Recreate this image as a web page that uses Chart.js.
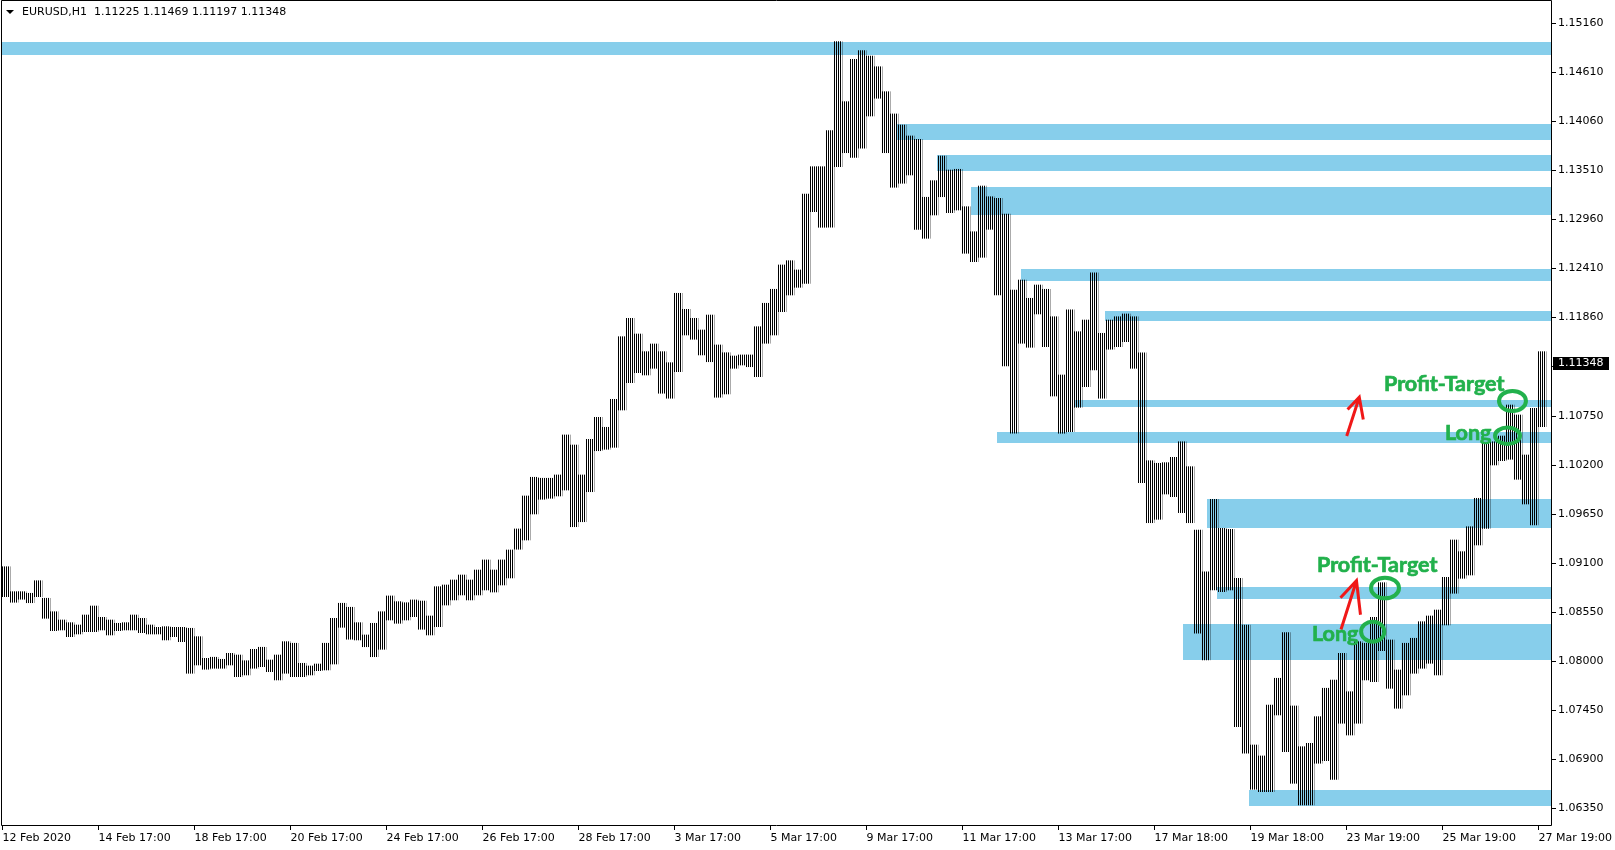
<!DOCTYPE html>
<html>
<head>
<meta charset="utf-8">
<title>EURUSD,H1</title>
<script src="https://cdn.jsdelivr.net/npm/chart.js@4.4.1/dist/chart.umd.min.js"></script>
<style>
html,body{margin:0;padding:0;background:#fff;}
#wrap{width:1615px;height:850px;}
</style>
</head>
<body>
<div id="wrap"><canvas id="mycanvas" width="1615" height="850"></canvas></div>
<script>
// EURUSD H1, one entry = 4 hourly bars (high / low of the group)
var timeLabels = ["12 Feb 2020","14 Feb 17:00","18 Feb 17:00","20 Feb 17:00","24 Feb 17:00","26 Feb 17:00","28 Feb 17:00","3 Mar 17:00","5 Mar 17:00","9 Mar 17:00","11 Mar 17:00","13 Mar 17:00","17 Mar 18:00","19 Mar 18:00","23 Mar 19:00","25 Mar 19:00","27 Mar 19:00"];
var priceTicks = [1.06350,1.06900,1.07450,1.08000,1.08550,1.09100,1.09650,1.10200,1.10750,1.11310,1.11860,1.12410,1.12960,1.13510,1.14060,1.14610,1.15160];

var highs = [1.09061,1.08781,1.08781,1.08763,1.08904,1.08707,1.08556,1.08463,1.08433,1.08407,
1.08519,1.08620,1.08493,1.08463,1.08426,1.08433,1.08519,1.08482,1.08407,1.08381,
1.08388,1.08381,1.08381,1.08370,1.08276,1.08033,1.08045,1.08022,1.08089,1.08070,
1.08006,1.08134,1.08157,1.08014,1.08070,1.08220,1.08202,1.07977,1.07947,1.07969,
1.08202,1.08482,1.08651,1.08606,1.08433,1.08295,1.08426,1.08556,1.08733,1.08669,
1.08657,1.08688,1.08676,1.08508,1.08837,1.08856,1.08912,1.08968,1.08912,1.09024,
1.09137,1.09024,1.09137,1.09249,1.09485,1.09855,1.10065,1.10054,1.10054,1.10091,
1.10540,1.10427,1.10091,1.10491,1.10738,1.10626,1.10940,1.11643,1.11849,1.11673,
1.11475,1.11561,1.11475,1.11351,1.12130,1.11950,1.11849,1.11718,1.11886,1.11550,
1.11463,1.11426,1.11438,1.11438,1.11755,1.12018,1.12175,1.12448,1.12496,1.12392,
1.13245,1.13551,1.13551,1.13955,1.14954,1.14281,1.14756,1.14853,1.14793,1.14673,
1.14393,1.14143,1.14019,1.13896,1.13859,1.13208,1.13394,1.13671,1.13514,1.13522,
1.13102,1.12821,1.13334,1.13214,1.13196,1.13020,1.12167,1.12279,1.12074,1.12223,
1.12175,1.11867,1.11213,1.11943,1.11699,1.11830,1.12361,1.11681,1.11830,1.11867,
1.11898,1.11867,1.11463,1.10251,1.10222,1.10229,1.10289,1.10464,1.10184,1.09473,
1.09005,1.09818,1.09492,1.09481,1.08931,1.08407,1.07060,1.06937,1.07509,1.07809,
1.08321,1.07498,1.07041,1.07079,1.07378,1.07697,1.07790,1.08089,1.07658,1.08220,
1.08202,1.08493,1.08882,1.08239,1.07902,1.08202,1.08258,1.08444,1.08508,1.08575,
1.08942,1.09361,1.09230,1.09510,1.09829,1.10446,1.10464,1.10528,1.10876,1.10764,
1.10315,1.10839,1.11475];

var lows = [1.08725,1.08662,1.08696,1.08657,1.08725,1.08482,1.08343,1.08351,1.08276,1.08306,
1.08332,1.08332,1.08351,1.08295,1.08343,1.08351,1.08351,1.08321,1.08306,1.08306,
1.08239,1.08276,1.08220,1.07865,1.07958,1.07910,1.07921,1.07921,1.07958,1.07827,
1.07846,1.07921,1.07939,1.07883,1.07790,1.07865,1.07827,1.07827,1.07846,1.07894,
1.07902,1.07969,1.08381,1.08247,1.08239,1.08163,1.08051,1.08134,1.08463,1.08426,
1.08463,1.08500,1.08359,1.08295,1.08388,1.08631,1.08688,1.08744,1.08688,1.08744,
1.08800,1.08777,1.08856,1.08935,1.09257,1.09361,1.09653,1.09818,1.09829,1.09855,
1.09922,1.09510,1.09566,1.09903,1.10363,1.10379,1.10401,1.10820,1.11127,1.11239,
1.11213,1.11288,1.11008,1.10952,1.11250,1.11662,1.11614,1.11438,1.11362,1.10963,
1.11000,1.11288,1.11325,1.11306,1.11194,1.11569,1.11662,1.11924,1.12111,1.12197,
1.12242,1.13046,1.12871,1.12871,1.13551,1.13708,1.13656,1.13758,1.14120,1.14319,
1.13708,1.13320,1.13365,1.13458,1.12848,1.12747,1.13009,1.13214,1.13035,1.13065,
1.12579,1.12485,1.12534,1.12848,1.12111,1.11314,1.10559,1.11569,1.11524,1.11898,
1.11531,1.10977,1.10559,1.10577,1.10850,1.11082,1.11269,1.10952,1.11502,1.11531,
1.11587,1.11288,1.10004,1.09555,1.09593,1.09877,1.09847,1.09668,1.09555,1.08314,
1.08014,1.08800,1.08781,1.08800,1.07266,1.06967,1.06563,1.06536,1.06536,1.07397,
1.06985,1.06630,1.06387,1.06387,1.06855,1.06884,1.06675,1.07304,1.07172,1.07304,
1.07790,1.07771,1.08119,1.07696,1.07472,1.07621,1.07865,1.07921,1.07977,1.07846,
1.08407,1.08763,1.08931,1.08968,1.09305,1.09492,1.10203,1.10251,1.10267,1.10042,
1.09765,1.09529,1.10633];

var lastClose = 1.11348;
var header = "EURUSD,H1  1.11225 1.11469 1.11197 1.11348";

// blue zones: start (bar group index), top and bottom price, run to the right edge
var zoneStart  = [-0.625, 111.375, 116.375, 120.625, 126.875, 137.375, 133.625, 123.875, 150.125, 151.375, 147.125, 155.375];
var zoneTop    = [1.14953, 1.14030, 1.13682, 1.13323, 1.12402, 1.11931, 1.10932, 1.10573, 1.09821, 1.08833, 1.08418, 1.06555];
var zoneBottom = [1.14804, 1.13850, 1.13506, 1.13008, 1.12271, 1.11822, 1.10853, 1.10453, 1.09499, 1.08698, 1.08014, 1.06375];

// annotations
var noteText = ["Profit-Target", "Long", "Profit-Target", "Long"];
var noteX = [172.25, 179.875, 163.875, 163.25];
var noteY = [1.11033, 1.10483, 1.09005, 1.08231];
var ringX = [188.31, 187.69, 172.375, 170.84];
var ringY = [1.10921, 1.10531, 1.08822, 1.08332];
var ringRx = [13.5, 12.5, 14, 11.6];
var ringRy = [10, 8.2, 10.3, 10];
var arrowFromX = [167.59, 166.875];
var arrowFromY = [1.10528, 1.08357];
var arrowToX = [169.16, 168.81];
var arrowToY = [1.10963, 1.08904];
var wingL = [[-11.7, 12.3], [-16, 17]];
var wingR = [[4, 22.3], [4, 34]];

var bars = [];
for (var i = 0; i < highs.length; i++) {
  bars.push({x: i, y: [lows[i], highs[i]]});
}

// 1px black / 1px blank stripes, like dense H1 bars
var pc = document.createElement('canvas');
pc.width = 2; pc.height = 1;
var pctx = pc.getContext('2d');
pctx.fillStyle = '#000';
pctx.fillRect(0, 0, 1, 1);
var stripes = pctx.createPattern(pc, 'repeat');

var axisFont = {family: 'DejaVu Sans', size: 11};

var extras = {
  id: 'extras',
  beforeDatasetsDraw: function(chart) {
    var c = chart.ctx, a = chart.chartArea, xs = chart.scales.x, ys = chart.scales.y;
    c.save();
    c.fillStyle = '#87ceeb';
    for (var i = 0; i < zoneTop.length; i++) {
      var x0 = Math.max(a.left, Math.round(xs.getPixelForValue(zoneStart[i])));
      var y0 = Math.round(ys.getPixelForValue(zoneTop[i]));
      var y1 = Math.round(ys.getPixelForValue(zoneBottom[i]));
      c.fillRect(x0, y0, a.right - x0, y1 - y0);
    }
    c.restore();
  },
  afterDatasetsDraw: function(chart) {
    var c = chart.ctx, xs = chart.scales.x, ys = chart.scales.y;
    c.save();
    c.strokeStyle = '#22b14c';
    c.lineWidth = 4;
    for (var i = 0; i < ringX.length; i++) {
      c.beginPath();
      c.ellipse(xs.getPixelForValue(ringX[i]), ys.getPixelForValue(ringY[i]), ringRx[i], ringRy[i], 0, 0, Math.PI * 2);
      c.stroke();
    }
    c.strokeStyle = '#f01818';
    c.lineWidth = 3;
    for (var j = 0; j < arrowFromX.length; j++) {
      var tx = xs.getPixelForValue(arrowToX[j]), ty = ys.getPixelForValue(arrowToY[j]);
      c.beginPath();
      c.moveTo(xs.getPixelForValue(arrowFromX[j]), ys.getPixelForValue(arrowFromY[j]));
      c.lineTo(tx, ty);
      c.moveTo(tx + wingL[j][0], ty + wingL[j][1]);
      c.lineTo(tx, ty);
      c.lineTo(tx + wingR[j][0], ty + wingR[j][1]);
      c.stroke();
    }
    c.fillStyle = '#22b14c';
    c.strokeStyle = '#22b14c';
    c.lineWidth = 0.7;
    c.font = 'bold 21.5px Lato';
    c.textAlign = 'left';
    c.textBaseline = 'alphabetic';
    for (var k = 0; k < noteText.length; k++) {
      var nx = xs.getPixelForValue(noteX[k]), ny = ys.getPixelForValue(noteY[k]);
      c.fillText(noteText[k], nx, ny);
      c.strokeText(noteText[k], nx, ny);
    }
    c.restore();
  },
  afterDraw: function(chart) {
    var c = chart.ctx, a = chart.chartArea, ys = chart.scales.y;
    c.save();
    c.strokeStyle = '#000';
    c.lineWidth = 1;
    c.beginPath();
    c.moveTo(a.left + 0.5, a.bottom + 0.5);
    c.lineTo(a.left + 0.5, a.top + 0.5);
    c.lineTo(a.right + 0.5, a.top + 0.5);
    c.lineTo(a.right + 0.5, a.bottom + 0.5);
    c.closePath();
    c.stroke();

    // header
    c.fillStyle = '#000';
    c.beginPath();
    c.moveTo(6, 10); c.lineTo(14, 10); c.lineTo(10, 14); c.closePath();
    c.fill();
    c.font = '11px "DejaVu Sans"';
    c.textBaseline = 'middle';
    c.textAlign = 'left';
    c.fillText(header, 22, 12.5);

    // current price box
    var py = Math.round(ys.getPixelForValue(lastClose));
    c.fillStyle = '#000';
    c.fillRect(a.right + 2, py - 6, 56, 13);
    c.fillStyle = '#fff';
    c.fillText(lastClose.toFixed(5), a.right + 7, py + 0.5);
    c.restore();
  }
};

var chart = new Chart(document.getElementById('mycanvas'), {
  type: 'bar',
  data: {
    datasets: [{
      data: bars,
      backgroundColor: stripes,
      barThickness: 8,
      borderWidth: 0,
      grouped: false
    }]
  },
  options: {
    responsive: false,
    animation: false,
    devicePixelRatio: 1,
    layout: {padding: {left: 1, top: 0, right: 0, bottom: 0}},
    plugins: {legend: {display: false}, tooltip: {enabled: false}, title: {display: false}},
    scales: {
      x: {
        type: 'linear', min: -0.625, max: 193.125, offset: false,
        grid: {display: true, offset: false, drawOnChartArea: false, drawTicks: true, tickLength: 5, color: '#000'},
        border: {display: false},
        ticks: {
          autoSkip: false, maxRotation: 0, minRotation: 0, align: 'start', padding: 2,
          color: '#000', font: axisFont,
          callback: function(v, i) { return timeLabels[i]; }
        },
        afterBuildTicks: function(s) {
          s.ticks = timeLabels.map(function(t, k) { return {value: 12 * k - 0.4375}; });
        },
        afterFit: function(s) { s.height = 25; s.paddingLeft = 0; s.paddingRight = 0; }
      },
      y: {
        type: 'linear', position: 'right', min: 1.06162, max: 1.15422, beginAtZero: false,
        grid: {display: true, drawOnChartArea: false, drawTicks: true, tickLength: 5, color: '#000'},
        border: {display: false},
        ticks: {
          padding: 2, color: '#000', font: axisFont,
          callback: function(v) { return Number(v).toFixed(5); }
        },
        afterBuildTicks: function(s) {
          s.ticks = priceTicks.map(function(p) { return {value: p}; });
        },
        afterFit: function(s) { s.width = 64; s.paddingTop = 0; s.paddingBottom = 0; }
      }
    }
  },
  plugins: [extras]
});
</script>
</body>
</html>
